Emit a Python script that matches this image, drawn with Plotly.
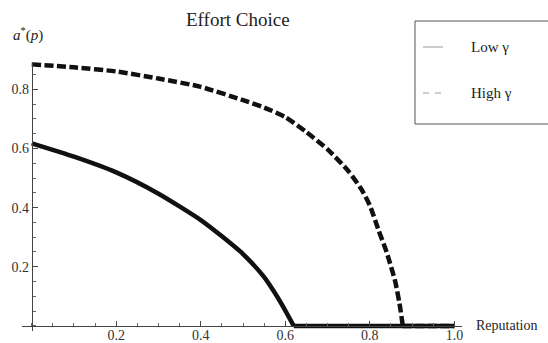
import plotly.graph_objects as go

# ---- data ----
reputation_low = [0, 0.1, 0.2, 0.3, 0.4, 0.45, 0.5, 0.55, 0.575, 0.6, 0.62, 0.8, 1.0]
effort_low = [0.617, 0.572, 0.519, 0.447, 0.358, 0.303, 0.243, 0.165, 0.112, 0.052, 0.0, 0.0, 0.0]

reputation_high = [0, 0.1, 0.2, 0.3, 0.4, 0.5, 0.55, 0.6, 0.65, 0.7, 0.75, 0.78, 0.8, 0.82, 0.84, 0.86, 0.87, 0.878, 1.0]
effort_high = [0.884, 0.874, 0.86, 0.836, 0.808, 0.763, 0.738, 0.706, 0.655, 0.597, 0.522, 0.462, 0.407, 0.326, 0.248, 0.15, 0.077, 0.0, 0.0]

series_names = ["Low γ", "High γ"]
x_tick_vals = [0.2, 0.4, 0.6, 0.8, 1.0]
x_tick_text = ["0.2", "0.4", "0.6", "0.8", "1.0"]
y_tick_vals = [0.2, 0.4, 0.6, 0.8]
y_tick_text = ["0.2", "0.4", "0.6", "0.8"]

title_text = "Effort Choice"
x_label = "Reputation"
y_label = "<i>a</i><sup>*</sup>(<i>p</i>)"

# ---- layout geometry (pixels) ----
W, H = 548, 343
ML, MR, MT, MB = 22, 86, 62, 12
PW = W - ML - MR
PH = H - MT - MB
XR = [-0.023, 1.018]
YR = [-0.017, 0.892]


def xp(px):
    return (px - ML) / PW


def yp(py):
    return (H - MB - py) / PH


FONT = "Liberation Serif"
INK = "#111111"

fig = go.Figure()


def add_series(xs, ys, name, dash):
    k = ys.index(0.0)  # first point where effort reaches zero
    fig.add_trace(go.Scatter(x=xs[:k + 1], y=ys[:k + 1], mode="lines", name=name,
                             line=dict(color=INK, width=4.5, dash=dash, shape="spline", smoothing=0.6),
                             showlegend=False))
    fig.add_trace(go.Scatter(x=xs[k:], y=ys[k:], mode="lines", name=name,
                             line=dict(color=INK, width=4.5, dash=dash),
                             showlegend=False))


add_series(reputation_low, effort_low, series_names[0], "solid")
add_series(reputation_high, effort_high, series_names[1], "9px,3.5px")

axis_common = dict(showgrid=False, zeroline=False, showline=True, linecolor="#444444", linewidth=1,
                   ticks="inside", ticklen=5, tickwidth=1, tickcolor="#444444",
                   tickfont=dict(family=FONT, size=14, color="#333333"), anchor="free",
                   tickmode="array", automargin=False,
                   minor=dict(tickmode="linear", tick0=0, dtick=0.05, ticks="inside", ticklen=3,
                              tickcolor="#666666", tickwidth=1, showgrid=False))

fig.update_xaxes(range=XR, tickvals=x_tick_vals, ticktext=x_tick_text, ticklabelstandoff=-4,
                 position=(0 - YR[0]) / (YR[1] - YR[0]), **axis_common)
fig.update_yaxes(range=YR, tickvals=y_tick_vals, ticktext=y_tick_text,
                 position=(0 - XR[0]) / (XR[1] - XR[0]), **axis_common)

annotations = [
    dict(text=title_text, x=xp(238), y=yp(20), xref="paper", yref="paper", showarrow=False,
         xanchor="center", yanchor="middle", font=dict(family=FONT, size=19, color="#222222")),
    dict(text=y_label, x=xp(28), y=yp(34), xref="paper", yref="paper", showarrow=False,
         xanchor="center", yanchor="middle", font=dict(family=FONT, size=15, color="#222222")),
    dict(text=x_label, x=xp(474), y=yp(325), xref="paper", yref="paper", showarrow=False,
         xanchor="left", yanchor="middle", font=dict(family=FONT, size=14, color="#222222")),
    dict(text=series_names[0], x=xp(469), y=yp(47), xref="paper", yref="paper", showarrow=False,
         xanchor="left", yanchor="middle", font=dict(family=FONT, size=15, color="#222222")),
    dict(text=series_names[1], x=xp(469), y=yp(93), xref="paper", yref="paper", showarrow=False,
         xanchor="left", yanchor="middle", font=dict(family=FONT, size=15, color="#222222")),
]

shapes = [
    dict(type="rect", xref="paper", yref="paper", x0=xp(415), x1=xp(552), y0=yp(124), y1=yp(21),
         line=dict(color="#555555", width=1), fillcolor="rgba(0,0,0,0)"),
    dict(type="line", xref="paper", yref="paper", x0=xp(423), x1=xp(443), y0=yp(47), y1=yp(47),
         line=dict(color="#999999", width=1)),
    dict(type="line", xref="paper", yref="paper", x0=xp(423), x1=xp(443), y0=yp(93), y1=yp(93),
         line=dict(color="#999999", width=1, dash="6px,6px")),
]

fig.update_layout(width=W, height=H, margin=dict(l=ML, r=MR, t=MT, b=MB, pad=0),
                  plot_bgcolor="white", paper_bgcolor="white",
                  annotations=annotations, shapes=shapes, showlegend=False)

fig.write_html("out.html", config={"displayModeBar": False},
               post_script="document.body.style.margin='0';")
